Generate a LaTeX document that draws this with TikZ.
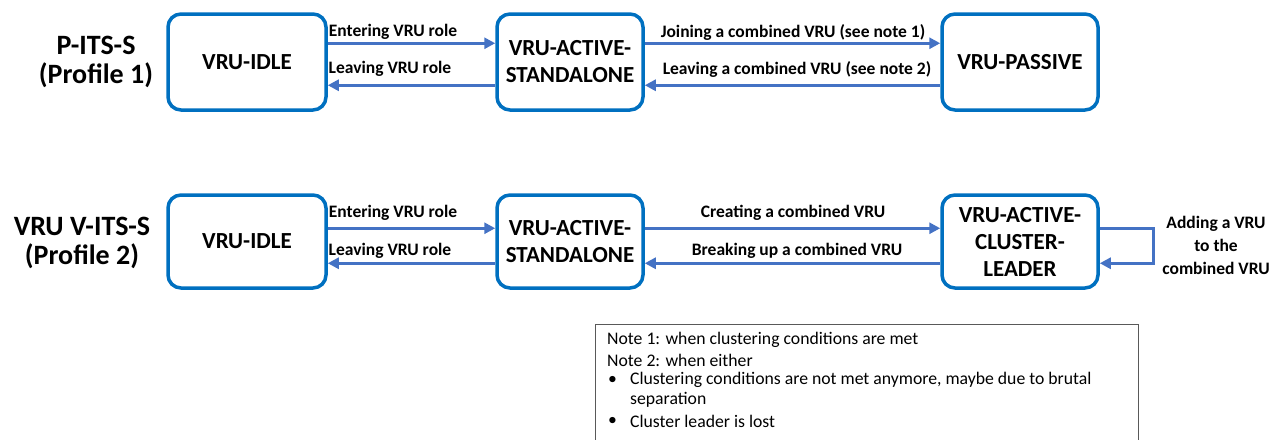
\documentclass[tikz,border=0pt]{standalone}
\usepackage{fontspec}
\setmainfont{Carlito}
\usetikzlibrary{arrows.meta}
\definecolor{boxblue}{RGB}{0,112,192}
\definecolor{arrblue}{RGB}{68,114,196}
\begin{document}
\begin{tikzpicture}[x=1pt,y=-1pt,
  state/.style={draw=boxblue, line width=3.5pt, rounded corners=13pt, fill=white,
    font=\bfseries\fontsize{23}{27}\selectfont, align=center, inner sep=0pt},
  arr/.style={draw=arrblue, line width=3pt, -{Triangle[length=11pt,width=11pt]}},
  lbl/.style={font=\bfseries\fontsize{17.5}{23}\selectfont, align=center, inner sep=0pt},
  title/.style={font=\bfseries\fontsize{28}{29}\selectfont, align=center, inner sep=0pt},
  note/.style={font=\fontsize{17.7}{20}\selectfont, anchor=west, inner sep=0pt}]
\useasboundingbox (0,0) rectangle (1281,439);
% Row 1
\node[title] (t1) at (96,62) {P-ITS-S\\(Profile 1)};
\node[state, minimum width=158pt, minimum height=96pt] (idle1) at (247,62) {VRU-IDLE};
\node[state, minimum width=146pt, minimum height=96pt] (act1) at (570,62) {VRU-ACTIVE-\\STANDALONE};
\node[state, minimum width=156pt, minimum height=96pt] (pas1) at (1020,62) {VRU-PASSIVE};
\draw[arr] ([yshift=-31pt]idle1.north east) -- ([yshift=-31pt]act1.north west);
\draw[arr] ([yshift=-73pt]act1.north west) -- ([yshift=-73pt]idle1.north east);
\draw[arr] ([yshift=-31pt]act1.north east) -- ([yshift=-31pt]pas1.north west);
\draw[arr] ([yshift=-73pt]pas1.north west) -- ([yshift=-73pt]act1.north east);
\node[lbl] (l1) at (393,32) {Entering VRU role};
\node[lbl] (l2) at (390,69) {Leaving VRU role};
\node[lbl] (l3) at (793,32) {Joining a combined VRU (see note 1)};
\node[lbl] (l4) at (797,69) {Leaving a combined VRU (see note 2)};
% Row 2
\node[title] (t2) at (82,243) {VRU V-ITS-S\\(Profile 2)};
\node[state, minimum width=158pt, minimum height=93pt] (idle2) at (247,241.5) {VRU-IDLE};
\node[state, minimum width=146pt, minimum height=93pt] (act2) at (570,241.5) {VRU-ACTIVE-\\STANDALONE};
\node[state, minimum width=156pt, minimum height=93pt] (cl2) at (1020,241.5) {VRU-ACTIVE-\\CLUSTER-\\LEADER};
\draw[arr] ([yshift=-35pt]idle2.north east) -- ([yshift=-35pt]act2.north west);
\draw[arr] ([yshift=-70pt]act2.north west) -- ([yshift=-70pt]idle2.north east);
\draw[arr] ([yshift=-35pt]act2.north east) -- ([yshift=-35pt]cl2.north west);
\draw[arr] ([yshift=-70pt]cl2.north west) -- ([yshift=-70pt]act2.north east);
\coordinate (lp) at (1153,0);
\draw[arr] ([yshift=-35pt]cl2.north east) -| ([yshift=-35pt]lp |- cl2.north)
  -- ([yshift=-70pt]lp |- cl2.north) -- ([yshift=-70pt]cl2.north east);
\node[lbl] (l5) at (393,213) {Entering VRU role};
\node[lbl] (l6) at (390,251) {Leaving VRU role};
\node[lbl] (l7) at (793,213) {Creating a combined  VRU};
\node[lbl] (l8) at (797,251) {Breaking up a combined VRU};
\node[lbl] (l9) at (1216,245) {Adding a VRU\\to the\\combined VRU};
% Note
\draw[gray!70!black, line width=0.8pt] (595,445) -- (595,324) -- (1138,324) -- (1138,445);
\node[note] (n1) at (607,340) {Note 1: when clustering conditions are met};
\node[note] (n2) at (607,360) {Note 2: when either};
\node[note] (b1) at (608,380) {•};
\node[note] (n3) at (630,380) {Clustering conditions are not met anymore, maybe due to brutal};
\node[note] (n4) at (630,400) {separation};
\node[note] (b2) at (608,421) {•};
\node[note] (n5) at (630,421) {Cluster leader is lost};
\end{tikzpicture}
\end{document}
